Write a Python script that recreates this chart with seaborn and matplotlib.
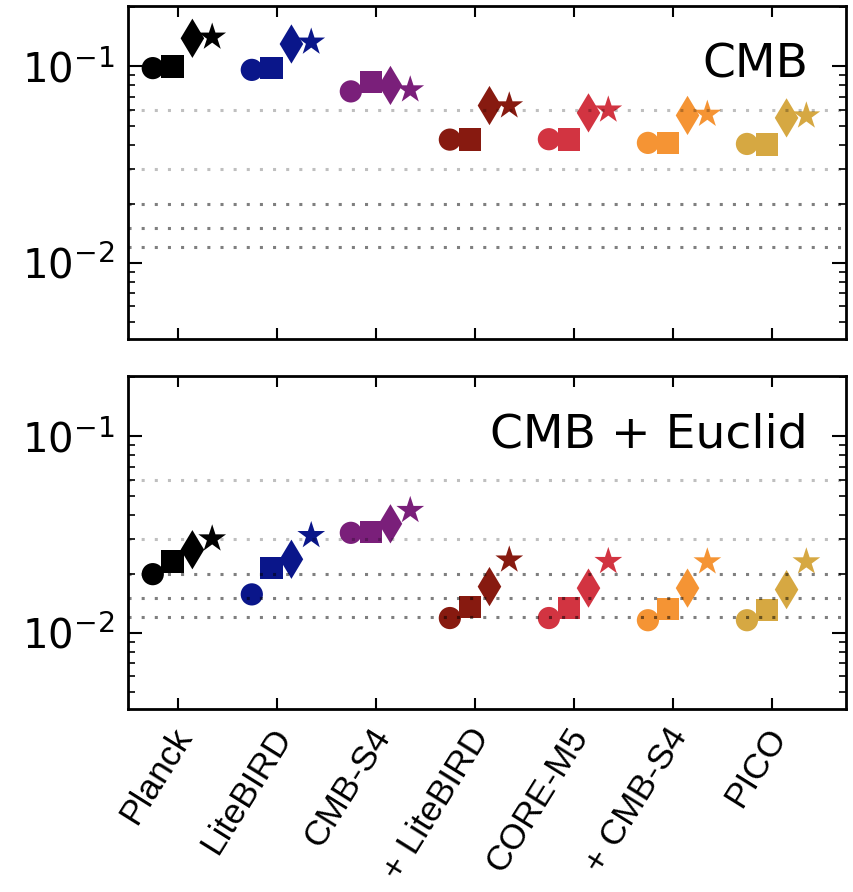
import matplotlib
matplotlib.use("Agg")
import matplotlib.pyplot as plt
import matplotlib.transforms as mtransforms
import seaborn as sns
import pandas as pd
import numpy as np

experiments = ["Planck", "LiteBIRD", "CMB-S4", "+ LiteBIRD", "CORE-M5", "+ CMB-S4", "PICO"]
colors = ["#000000", "#0a168a", "#7a1f7a", "#871a10", "#d23441", "#f59434", "#d6a842"]
markers = ["o", "s", "d", "*"]
marker_sizes = [16, 16, 20, 21]
offsets = [-0.25, -0.05, 0.15, 0.35]

# CMB only
cmb_circle = [0.098, 0.096, 0.0746, 0.0424, 0.0426, 0.0408, 0.0403]
cmb_square = [0.100, 0.098, 0.083, 0.0424, 0.0424, 0.0408, 0.0400]
cmb_diamond = [0.139, 0.130, 0.080, 0.0632, 0.058, 0.0563, 0.0547]
cmb_star = [0.141, 0.133, 0.076, 0.063, 0.060, 0.0571, 0.056]

# CMB + Euclid
euc_circle = [0.0199, 0.0157, 0.0323, 0.0119, 0.0119, 0.0116, 0.0116]
euc_square = [0.0231, 0.0213, 0.0327, 0.0135, 0.0134, 0.0132, 0.0131]
euc_diamond = [0.0265, 0.0237, 0.0359, 0.0172, 0.0169, 0.0169, 0.0166]
euc_star = [0.0301, 0.0313, 0.042, 0.0235, 0.0231, 0.023, 0.023]

ref_levels = [0.06, 0.03, 0.02, 0.015, 0.012]
ref_alpha = [0.25, 0.25, 0.5, 0.5, 0.5]

panels = [("CMB", [cmb_circle, cmb_square, cmb_diamond, cmb_star]),
          ("CMB + Euclid", [euc_circle, euc_square, euc_diamond, euc_star])]

sns.set_style("ticks")
plt.rcParams.update({
    "font.family": ["DejaVu Sans"],
    "text.color": "black", "axes.edgecolor": "black",
    "xtick.color": "black", "ytick.color": "black",
    "xtick.labelcolor": "black", "ytick.labelcolor": "black",
    "xtick.direction": "in", "ytick.direction": "in",
    "xtick.top": True, "ytick.right": True,
    "axes.linewidth": 2.0,
    "xtick.major.width": 1.5, "ytick.major.width": 1.5,
    "ytick.minor.width": 1.2,
    "xtick.major.size": 8, "ytick.major.size": 10, "ytick.minor.size": 5,
    "ytick.minor.visible": True,
})

fig = plt.figure(figsize=(8.54, 8.92), dpi=100)
ax_rects = [[0.1499, 0.620, 0.8407, 0.3733], [0.1499, 0.2052, 0.8407, 0.3733]]
palette = dict(zip(experiments, colors))
pos = np.arange(len(experiments))

for k, (title, series) in enumerate(panels):
    ax = fig.add_axes(ax_rects[k])
    for mk, ms, off, vals in zip(markers, marker_sizes, offsets, series):
        df = pd.DataFrame({"x": pos + off, "y": vals, "exp": experiments})
        sns.scatterplot(data=df, x="x", y="y", hue="exp", palette=palette,
                        marker=mk, s=ms ** 2, linewidth=0, legend=False,
                        ax=ax, zorder=2)
    ax.set_yscale("log")
    for lvl, a in zip(ref_levels, ref_alpha):
        ax.axhline(lvl, color="black", alpha=a, lw=2.2,
                   linestyle=(0, (1, 3.3)), zorder=3)
    ax.set_ylim(0.0041, 0.203)
    ax.set_xlim(-0.5, 6.75)
    ax.set_xticks(pos)
    ax.set_xlabel("")
    ax.set_ylabel("")
    ax.tick_params(axis="y", labelsize=29, pad=10)
    ax.tick_params(axis="y", which="minor", right=True)
    ax.text(0.947, 0.786, title, transform=ax.transAxes, ha="right",
            va="baseline", fontsize=34)
    if k == 0:
        ax.set_xticklabels([])
    else:
        ax.set_xticklabels(experiments, rotation=58, ha="right",
                           rotation_mode="anchor", va="center",
                           family=["Liberation Sans"], fontsize=25.5)
        ax.tick_params(axis="x", pad=16)
        shift = mtransforms.ScaledTranslation(7 / 100, 0, fig.dpi_scale_trans)
        for lbl in ax.get_xticklabels():
            lbl.set_transform(lbl.get_transform() + shift)

fig.savefig("out.png", dpi=100)
